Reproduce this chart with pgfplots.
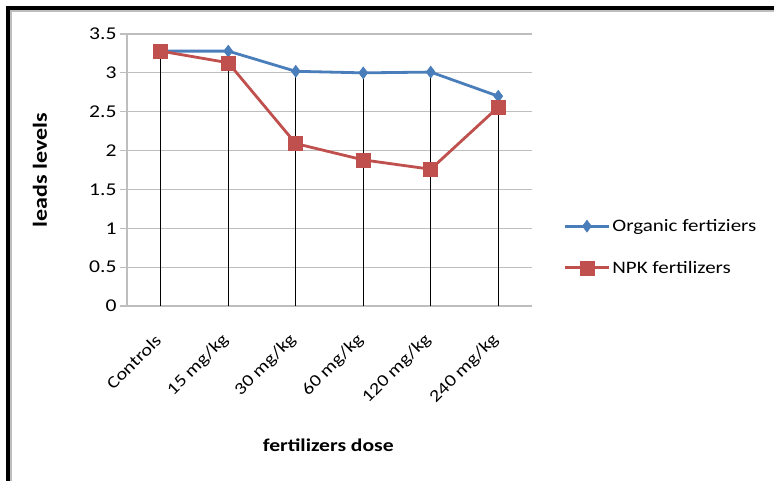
\documentclass[border=0pt]{standalone}
\usepackage{pgfplots}
\pgfplotsset{compat=1.18}
\usepackage{fontspec}
\setmainfont{Carlito}[FakeStretch=1.2]
\definecolor{ob}{RGB}{74,126,187}
\definecolor{nr}{RGB}{192,80,77}
\definecolor{gr}{RGB}{190,190,190}
\begin{document}
\begin{tikzpicture}[x=1pt,y=1pt]
\path[use as bounding box] (0,0) rectangle (774,-481);
\fill[white] (0,0) rectangle (774,-481);
\fill[black] (6,-6) rectangle (774,-10);
\fill[black] (6,-6) rectangle (10,-481);
\draw[gr, line width=1.5pt] (11,-481) -- (11,-11) -- (774,-11);
\begin{axis}[
  at={(127pt,-306pt)}, anchor=south west, scale only axis,
  width=405pt, height=272pt,
  xmin=-0.5, xmax=5.5, ymin=0, ymax=3.5,
  axis lines*=left,
  axis line style={gr, line width=1.2pt},
  xtick=data,
  xticklabels={Controls, 15 mg/kg, 30 mg/kg, 60 mg/kg, 120 mg/kg, 240 mg/kg},
  xtick style={draw=none},
  xticklabel style={rotate=45, anchor=east, font=\fontsize{17}{17}\selectfont},
  xticklabel shift=22pt,
  ytick={0,0.5,1,1.5,2,2.5,3,3.5},
  yticklabel style={font=\fontsize{18}{18}\selectfont},
  /pgf/number format/assume math mode=true,
  ytick style={gr, line width=1.2pt},
  tick align=outside, major tick length=7pt,
  ymajorgrids, grid style={gr, line width=1.2pt},
  xlabel={\bfseries fertilizers dose},
  xlabel style={at={(axis description cs:0.497,-0.511)}, anchor=center, font=\fontsize{18}{18}\selectfont},
  ylabel={\bfseries leads levels},
  ylabel style={at={(axis description cs:-0.215,0.5)}, anchor=center, rotate=0, font=\fontsize{20}{20}\selectfont},
  legend style={at={(1.07,0.217)}, anchor=west, draw=none, fill=none,
    font=\fontsize{17.5}{17.5}\selectfont, row sep=24pt},
  legend cell align=left,
  legend image code/.code={\draw[#1, mark repeat=2, mark phase=2] plot coordinates {(0pt,0pt) (22pt,0pt) (44pt,0pt)};},
  clip=false,
]
\addplot[color=ob, line width=2.8pt, mark=diamond*, mark size=6pt, mark options={solid, line width=0.5pt}]
  coordinates {(0,3.28) (1,3.28) (2,3.02) (3,3.00) (4,3.01) (5,2.70)};
\addlegendentry{Organic fertiziers}
\addplot[color=nr, line width=2.8pt, mark=square*, mark size=7pt, mark options={solid, line width=0.5pt}]
  coordinates {(0,3.28) (1,3.13) (2,2.09) (3,1.88) (4,1.76) (5,2.56)};
\addlegendentry{NPK fertilizers}
\addplot[ycomb, black, line width=0.8pt, mark=none, forget plot]
  coordinates {(0,3.28) (1,3.28) (2,3.02) (3,3.00) (4,3.01) (5,2.70)};
\end{axis}
\end{tikzpicture}
\end{document}
